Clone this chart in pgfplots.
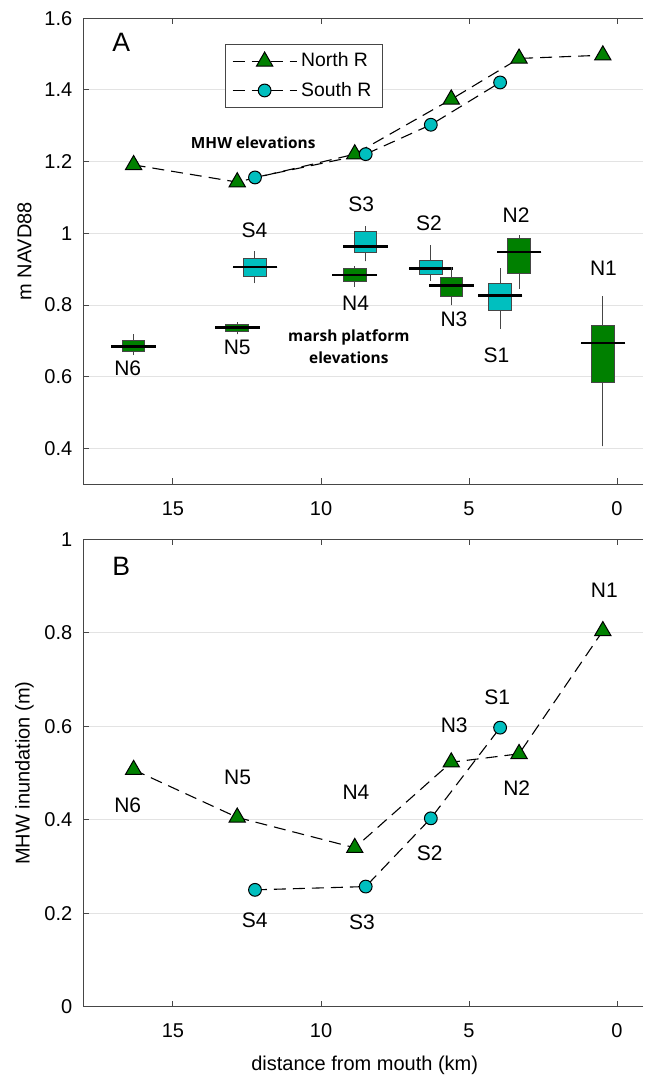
\documentclass[border=0pt]{standalone}
\usepackage{pgfplots}
\pgfplotsset{compat=1.18}
\usepgfplotslibrary{statistics}
\usepackage{fontspec}
\setmainfont{Liberation Sans}
\newfontfamily\osans{Open Sans}
\definecolor{mgreen}{RGB}{0,128,0}
\definecolor{mcyan}{RGB}{0,191,191}
\definecolor{axgray}{RGB}{70,70,70}

\tikzset{lab/.style={font=\fontsize{10.5}{12.6}\selectfont}}
\pgfplotsset{
  common/.style={
    scale only axis,
    width=279.9pt,
    x dir=reverse,
    xmin=-0.88, xmax=18.03,
    xtick={0,5,10,15},
    separate axis lines,
    axis x line*=box,
    axis y line*=left,
    axis line style={-, axgray, line width=0.6pt},
    tick align=inside,
    major tick length=3pt,
    tick style={axgray, line width=0.5pt},
    ymajorgrids,
    grid style={gray!22, line width=0.5pt},
    /pgf/number format/assume math mode=true,
    tick label style={font=\fontsize{10}{12}\selectfont},
    xticklabel style={yshift=-5pt},
    yticklabel style={xshift=-2pt},
    label style={font=\fontsize{10.5}{12.6}\selectfont},
    every axis y label/.style={at={(axis description cs:-0.105,0.5)}, rotate=90, anchor=center},
    every axis x label/.style={at={(axis description cs:0.5027,-0.125)}, anchor=center},
  },
  nline/.style={black, dash pattern=on 6pt off 3.5pt, line width=0.55pt, mark=triangle*, mark size=4.7pt, mark options={solid, fill=mgreen, draw=black, line width=0.5pt}},
  sline/.style={black, dash pattern=on 6pt off 3.5pt, line width=0.55pt, mark=*, mark size=3.2pt, mark options={solid, fill=mcyan, draw=black, line width=0.5pt}},
  bx/.style={
    forget plot,
    draw=axgray, line width=0.5pt,
    boxplot/draw direction=y,
    boxplot/box extend=0.76,
    boxplot/draw/median/.code={\draw[black, line width=1.4pt] (boxplot box cs:\pgfplotsboxplotvalue{median},-0.49) -- (boxplot box cs:\pgfplotsboxplotvalue{median},1.49);},
    boxplot/draw/lower whisker/.code={\draw[axgray, line width=0.5pt] (boxplot cs:\pgfplotsboxplotvalue{lower whisker}) -- (boxplot cs:\pgfplotsboxplotvalue{lower quartile});},
    boxplot/draw/upper whisker/.code={\draw[axgray, line width=0.5pt] (boxplot cs:\pgfplotsboxplotvalue{upper whisker}) -- (boxplot cs:\pgfplotsboxplotvalue{upper quartile});},
  },
}

\begin{document}
\begin{tikzpicture}
% ---------- Panel A ----------
\begin{axis}[common,
  at={(0pt,261.2pt)}, anchor=south west,
  height=233pt,
  ymin=0.3, ymax=1.6,
  ytick={0.4,0.6,0.8,1,1.2,1.4,1.6},
  ylabel={m NAVD88},
  legend style={at={(axis description cs:0.2524,0.944)}, anchor=north west, draw=axgray, line width=0.5pt, font=\fontsize{9.7}{11}\selectfont, row sep=2pt, inner xsep=3.5pt, inner ysep=2pt},
  legend cell align=left,
  legend image code/.code={\draw[mark repeat=2, mark phase=2, #1] plot coordinates {(0pt,0pt) (16pt,0pt) (32pt,0pt)};},
]
\addplot[nline] coordinates {(16.33,1.191) (12.83,1.143) (8.86,1.221) (5.60,1.374) (3.31,1.488) (0.48,1.497)};
\addlegendentry{North R}
\addplot[sline] coordinates {(12.23,1.156) (8.49,1.221) (6.29,1.303) (3.95,1.421)};
\addlegendentry{South R}

\addplot[bx, fill=mgreen, boxplot prepared={draw position=16.33, lower whisker=0.660, lower quartile=0.670, median=0.684, upper quartile=0.7015, upper whisker=0.718}] coordinates {};
\addplot[bx, fill=mgreen, boxplot prepared={draw position=12.83, lower whisker=0.718, lower quartile=0.725, median=0.738, upper quartile=0.746, upper whisker=0.752}] coordinates {};
\addplot[bx, fill=mcyan, boxplot prepared={draw position=12.23, lower whisker=0.861, lower quartile=0.880, median=0.906, upper quartile=0.931, upper whisker=0.950}] coordinates {};
\addplot[bx, fill=mgreen, boxplot prepared={draw position=8.86, lower whisker=0.851, lower quartile=0.867, median=0.884, upper quartile=0.901, upper whisker=0.908}] coordinates {};
\addplot[bx, fill=mcyan, boxplot prepared={draw position=8.49, lower whisker=0.922, lower quartile=0.947, median=0.963, upper quartile=1.005, upper whisker=1.020}] coordinates {};
\addplot[bx, fill=mcyan, boxplot prepared={draw position=6.29, lower whisker=0.868, lower quartile=0.884, median=0.901, upper quartile=0.925, upper whisker=0.967}] coordinates {};
\addplot[bx, fill=mgreen, boxplot prepared={draw position=5.60, lower whisker=0.799, lower quartile=0.823, median=0.855, upper quartile=0.876, upper whisker=0.906}] coordinates {};
\addplot[bx, fill=mcyan, boxplot prepared={draw position=3.95, lower whisker=0.734, lower quartile=0.785, median=0.826, upper quartile=0.860, upper whisker=0.903}] coordinates {};
\addplot[bx, fill=mgreen, boxplot prepared={draw position=3.31, lower whisker=0.846, lower quartile=0.888, median=0.948, upper quartile=0.987, upper whisker=0.995}] coordinates {};
\addplot[bx, fill=mgreen, boxplot prepared={draw position=0.48, lower whisker=0.406, lower quartile=0.584, median=0.694, upper quartile=0.744, upper whisker=0.825}] coordinates {};

\node[anchor=north west, inner sep=0pt, font=\fontsize{13.3}{15}\selectfont] at (axis description cs:0.0513,0.968) {A};
\node[font=\osans\bfseries\fontsize{7.7}{10.85}\selectfont] at (axis cs:12.29,1.252) {MHW elevations};
\node[align=center, font=\osans\bfseries\fontsize{7.7}{10.85}\selectfont] at (axis cs:9.06,0.684) {marsh platform\\elevations};
\node[lab] at (axis cs:12.25,1.010) {S4};
\node[lab] at (axis cs:8.64,1.080) {S3};
\node[lab] at (axis cs:6.35,1.029) {S2};
\node[lab] at (axis cs:3.41,1.052) {N2};
\node[lab] at (axis cs:0.46,0.904) {N1};
\node[lab] at (axis cs:16.53,0.624) {N6};
\node[lab] at (axis cs:12.83,0.681) {N5};
\node[lab] at (axis cs:8.83,0.806) {N4};
\node[lab] at (axis cs:5.51,0.760) {N3};
\node[lab] at (axis cs:4.07,0.660) {S1};
\end{axis}

% ---------- Panel B ----------
\begin{axis}[common,
  at={(0pt,0pt)}, anchor=south west,
  height=233.7pt,
  ymin=0, ymax=1,
  ytick={0,0.2,0.4,0.6,0.8,1},
  ylabel={MHW inundation (m)},
  xlabel={distance from mouth (km)},
]
\addplot[nline] coordinates {(16.33,0.507) (12.83,0.405) (8.86,0.340) (5.60,0.523) (3.31,0.541) (0.48,0.804)};
\addplot[sline] coordinates {(12.23,0.250) (8.49,0.257) (6.29,0.403) (3.95,0.597)};

\node[anchor=north west, inner sep=0pt, font=\fontsize{13.3}{15}\selectfont] at (axis description cs:0.0513,0.963) {B};
\node[lab] at (axis cs:0.43,0.890) {N1};
\node[lab] at (axis cs:4.05,0.663) {S1};
\node[lab] at (axis cs:5.50,0.602) {N3};
\node[lab] at (axis cs:3.39,0.468) {N2};
\node[lab] at (axis cs:16.53,0.430) {N6};
\node[lab] at (axis cs:12.82,0.490) {N5};
\node[lab] at (axis cs:8.82,0.458) {N4};
\node[lab] at (axis cs:6.33,0.329) {S2};
\node[lab] at (axis cs:12.24,0.184) {S4};
\node[lab] at (axis cs:8.62,0.180) {S3};
\end{axis}

\pgfresetboundingbox
\path (-41.65pt,-34.65pt) rectangle (280.35pt,503.35pt);
\end{tikzpicture}
\end{document}
